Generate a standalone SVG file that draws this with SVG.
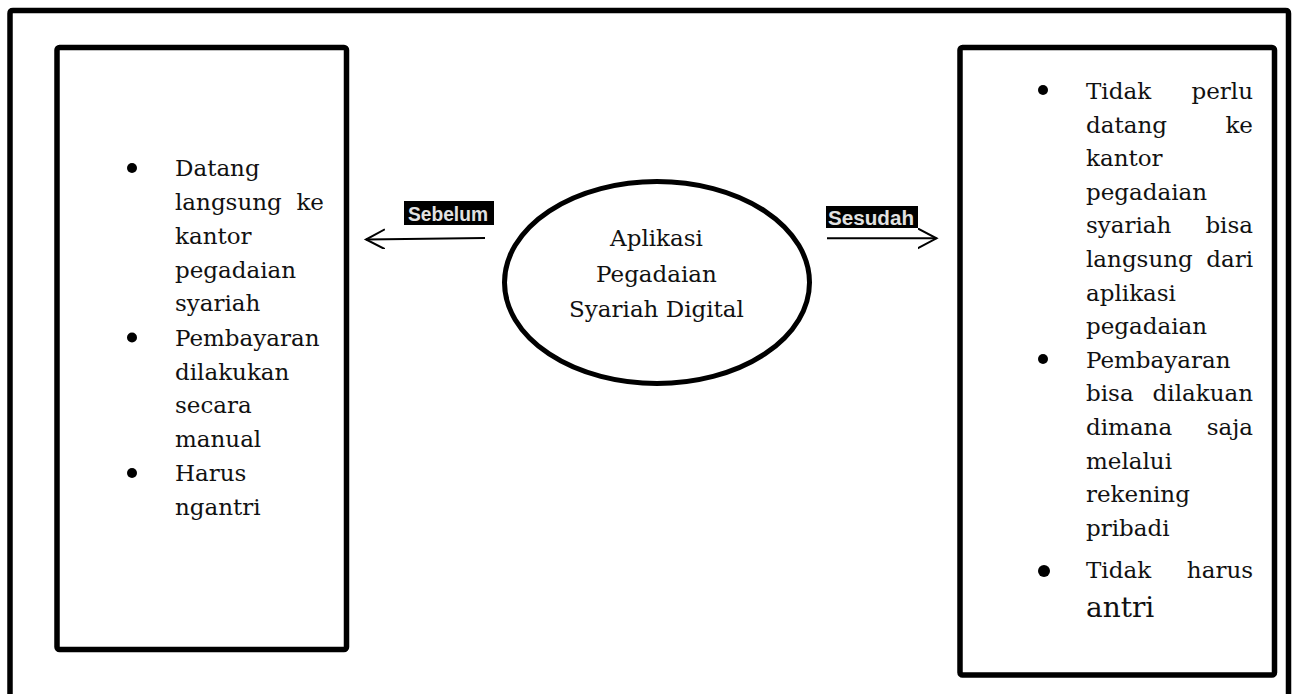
<svg xmlns="http://www.w3.org/2000/svg" width="1296" height="694" viewBox="0 0 1296 694">
  <style>
    .box { fill: #ffffff; stroke: #000000; stroke-width: 5.5; }
    .body { font-family: "DejaVu Serif", "Liberation Serif", serif; font-size: 23px; fill: #111111; }
    .end { text-anchor: end; }
    .mid { text-anchor: middle; }
    .big { font-size: 28px; }
    .lbl { font-family: "Liberation Sans", Arial, sans-serif; font-weight: bold; font-size: 19.5px; fill: #e2e2e2; }
    .lblbg { fill: #000000; }
    .arrow { fill: none; stroke: #000000; stroke-width: 2; }
  </style>
  <defs>
    <marker id="head" markerUnits="userSpaceOnUse" markerWidth="24" markerHeight="24" refX="19" refY="10" orient="auto">
      <path d="M0,0 L19,10 L0,20" fill="none" stroke="#000000" stroke-width="2"/>
    </marker>
  </defs>
  <rect width="1296" height="694" fill="#ffffff"/>

  <g id="frame">
    <path d="M10,720 L10,13.5 Q10,10.5 13,10.5 L1285.5,10.5 Q1288.5,10.5 1288.5,13.5 L1288.5,720" fill="none" stroke="#000000" stroke-width="5.5"/>
  </g>

  <g id="node-sebelum">
    <rect class="box" x="57" y="47.5" width="289.5" height="602" rx="2.5"/>
    <circle cx="132" cy="168" r="5"/>
    <circle cx="132" cy="337.5" r="5"/>
    <circle cx="132" cy="473" r="5"/>
    <g class="body">
      <text x="175" y="176">Datang</text>
      <text x="175" y="210">langsung</text><text class="end" x="324" y="210">ke</text>
      <text x="175" y="244">kantor</text>
      <text x="175" y="277.5">pegadaian</text>
      <text x="175" y="311">syariah</text>
      <text x="175" y="345.5">Pembayaran</text>
      <text x="175" y="379.5">dilakukan</text>
      <text x="175" y="413">secara</text>
      <text x="175" y="447">manual</text>
      <text x="175" y="481">Harus</text>
      <text x="175" y="515">ngantri</text>
    </g>
  </g>

  <g id="node-aplikasi">
    <ellipse cx="657" cy="282.5" rx="152.5" ry="101" fill="#ffffff" stroke="#000000" stroke-width="5"/>
    <g class="body mid">
      <text x="656.5" y="246">Aplikasi</text>
      <text x="656.5" y="281.5">Pegadaian</text>
      <text x="656.5" y="317">Syariah Digital</text>
    </g>
  </g>

  <g id="node-sesudah">
    <rect class="box" x="960" y="47.5" width="314.5" height="627.5" rx="2.5"/>
    <circle cx="1043" cy="90" r="5"/>
    <circle cx="1043" cy="359" r="5"/>
    <circle cx="1044" cy="571" r="6"/>
    <g class="body">
      <text x="1086" y="99">Tidak</text><text class="end" x="1253" y="99">perlu</text>
      <text x="1086" y="132.6">datang</text><text class="end" x="1253" y="132.6">ke</text>
      <text x="1086" y="166.2">kantor</text>
      <text x="1086" y="199.8">pegadaian</text>
      <text x="1086" y="233.4">syariah</text><text class="end" x="1253" y="233.4">bisa</text>
      <text x="1086" y="267">langsung</text><text class="end" x="1253" y="267">dari</text>
      <text x="1086" y="300.6">aplikasi</text>
      <text x="1086" y="334.2">pegadaian</text>
      <text x="1086" y="367.8">Pembayaran</text>
      <text x="1086" y="401.4">bisa</text><text class="end" x="1253" y="401.4">dilakuan</text>
      <text x="1086" y="435">dimana</text><text class="end" x="1253" y="435">saja</text>
      <text x="1086" y="468.6">melalui</text>
      <text x="1086" y="502.2">rekening</text>
      <text x="1086" y="535.8">pribadi</text>
      <text x="1086" y="578">Tidak</text><text class="end" x="1253" y="578">harus</text>
      <text class="big" x="1086" y="617">antri</text>
    </g>
  </g>

  <g id="connectors">
    <line class="arrow" x1="485" y1="238" x2="366" y2="239.5" marker-end="url(#head)"/>
    <line class="arrow" x1="827" y1="238.3" x2="936.5" y2="238.3" marker-end="url(#head)"/>
    <rect class="lblbg" x="404" y="201" width="90" height="24"/>
    <text class="lbl" x="408" y="220.5" textLength="80" lengthAdjust="spacingAndGlyphs">Sebelum</text>
    <rect class="lblbg" x="826" y="206" width="92" height="22"/>
    <text class="lbl" x="828" y="224.5" textLength="86" lengthAdjust="spacingAndGlyphs">Sesudah</text>
  </g>
</svg>
